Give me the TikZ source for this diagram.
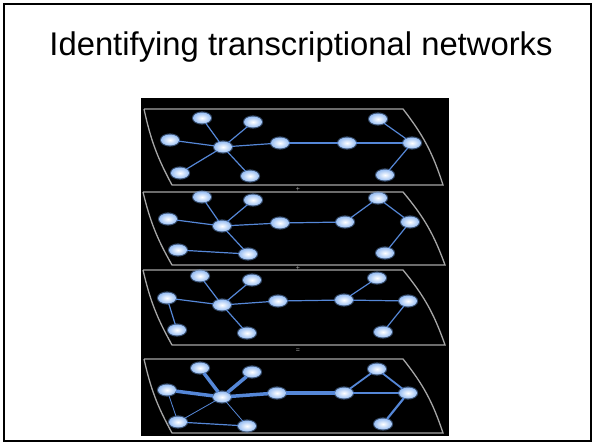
\documentclass[tikz,border=0pt]{standalone}
\usepackage{fontspec}
\setmainfont{Liberation Sans}
\usetikzlibrary{shapes.geometric}

\definecolor{glowblue}{RGB}{120,170,240}
\definecolor{linkblue}{RGB}{85,135,215}

\tikzset{
  vtx/.style={ellipse, minimum width=18pt, minimum height=11pt, inner sep=0pt,
    preaction={draw=glowblue, draw opacity=0.45, line width=2.2pt},
    shade, inner color=white, outer color=glowblue!75!white},
  link/.style={linkblue, line width=1.2pt},
  plane/.style={gray!70, line width=1.3pt},
  opsign/.style={gray!70, font=\scriptsize, inner sep=0pt}
}

\begin{document}
\begin{tikzpicture}[x=1pt, y=-1pt]
    \useasboundingbox (0,0) rectangle (593,445);
    \fill[white] (0,0) rectangle (593,445);
    \draw[line width=2pt] (4,4) rectangle (591,441);

    \node[anchor=base, font=\fontsize{32.8}{38}\selectfont] (title) at (301,55)
      {Identifying transcriptional networks};

    \fill[black] (141,98) rectangle (449,436);

    % first network
    \begin{scope}[shift={(0,109)}]
    \draw[plane] (144,0) -- (403,0) to[bend left=10] (443,76) -- (172,76) to[bend left=8] (144,0);
    \node[vtx] (a1) at (202,9) {};
    \node[vtx] (b1) at (253,13) {};
    \node[vtx] (c1) at (170,31) {};
    \node[vtx] (h1) at (223,38) {};
    \node[vtx] (d1) at (180,64) {};
    \node[vtx] (e1) at (250,67) {};
    \node[vtx] (f1) at (280,34) {};
    \node[vtx] (g1) at (347,34) {};
    \node[vtx] (p1) at (378,10) {};
    \node[vtx] (q1) at (412,34) {};
    \node[vtx] (r1) at (385,66) {};
    \draw[link] (h1) -- (a1);
    \draw[link] (h1) -- (b1);
    \draw[link] (h1) -- (c1);
    \draw[link] (h1) -- (d1);
    \draw[link] (h1) -- (e1);
    \draw[link] (h1) -- (f1);
    \draw[link] (f1) -- (g1);
    \draw[link] (g1) -- (q1);
    \draw[link] (q1) -- (p1);
    \draw[link] (q1) -- (r1);
    \end{scope}

    \node[opsign] (plus1) at (298,189) {+};

    % second network
    \begin{scope}[shift={(0,192)}]
    \draw[plane] (143,0) -- (403,0) to[bend left=10] (445,73) -- (172,73) to[bend left=8] (143,0);
    \node[vtx] (a2) at (202,5) {};
    \node[vtx] (b2) at (253,8) {};
    \node[vtx] (c2) at (168,27) {};
    \node[vtx] (h2) at (222,34) {};
    \node[vtx] (d2) at (178,58) {};
    \node[vtx] (e2) at (248,62) {};
    \node[vtx] (f2) at (280,31) {};
    \node[vtx] (g2) at (345,30) {};
    \node[vtx] (p2) at (378,6) {};
    \node[vtx] (q2) at (410,30) {};
    \node[vtx] (r2) at (385,61) {};
    \draw[link] (h2) -- (a2);
    \draw[link] (h2) -- (b2);
    \draw[link] (h2) -- (c2);
    \draw[link] (h2) -- (e2);
    \draw[link] (d2) -- (e2);
    \draw[link] (h2) -- (f2);
    \draw[link] (f2) -- (g2);
    \draw[link] (g2) -- (p2);
    \draw[link] (p2) -- (q2);
    \draw[link] (q2) -- (r2);
    \end{scope}

    \node[opsign] (plus2) at (298,268) {+};

    % third network
    \begin{scope}[shift={(0,270)}]
    \draw[plane] (143,0) -- (403,0) to[bend left=10] (445,75) -- (172,75) to[bend left=8] (143,0);
    \node[vtx] (a3) at (200,6) {};
    \node[vtx] (b3) at (252,10) {};
    \node[vtx] (c3) at (167,28) {};
    \node[vtx] (h3) at (222,35) {};
    \node[vtx] (d3) at (177,60) {};
    \node[vtx] (e3) at (247,63) {};
    \node[vtx] (f3) at (278,31) {};
    \node[vtx] (g3) at (344,30) {};
    \node[vtx] (p3) at (377,8) {};
    \node[vtx] (q3) at (408,31) {};
    \node[vtx] (r3) at (383,62) {};
    \draw[link] (h3) -- (a3);
    \draw[link] (h3) -- (b3);
    \draw[link] (h3) -- (c3);
    \draw[link] (c3) -- (d3);
    \draw[link] (h3) -- (e3);
    \draw[link] (h3) -- (f3);
    \draw[link] (f3) -- (g3);
    \draw[link] (g3) -- (p3);
    \draw[link] (g3) -- (q3);
    \draw[link] (q3) -- (r3);
    \end{scope}

    \node[opsign] (equals) at (298,351) {=};

    % combined network
    \begin{scope}[shift={(0,359)}]
    \draw[plane] (144,0) -- (403,0) to[bend left=10] (443,74) -- (172,74) to[bend left=8] (144,0);
    \node[vtx] (a4) at (200,9) {};
    \node[vtx] (b4) at (252,13) {};
    \node[vtx] (c4) at (167,31) {};
    \node[vtx] (h4) at (222,38) {};
    \node[vtx] (d4) at (178,63) {};
    \node[vtx] (e4) at (247,67) {};
    \node[vtx] (f4) at (277,34) {};
    \node[vtx] (g4) at (344,34) {};
    \node[vtx] (p4) at (377,10) {};
    \node[vtx] (q4) at (408,34) {};
    \node[vtx] (r4) at (383,65) {};
    \draw[link, line width=3.5pt] (h4) -- (a4);
    \draw[link, line width=3.5pt] (h4) -- (b4);
    \draw[link, line width=3.5pt] (h4) -- (c4);
    \draw[link, line width=3.5pt] (h4) -- (f4);
    \draw[link, line width=3.5pt] (f4) -- (g4);
    \draw[link, line width=0.8pt] (h4) -- (d4);
    \draw[link, line width=0.8pt] (h4) -- (e4);
    \draw[link, line width=0.8pt] (c4) -- (d4);
    \draw[link, line width=1.2pt] (d4) -- (e4);
    \draw[link, line width=1.8pt] (g4) -- (p4);
    \draw[link, line width=1.8pt] (p4) -- (q4);
    \draw[link, line width=1.5pt] (g4) -- (q4);
    \draw[link, line width=2.2pt] (q4) -- (r4);
    \end{scope}
\end{tikzpicture}
\end{document}
